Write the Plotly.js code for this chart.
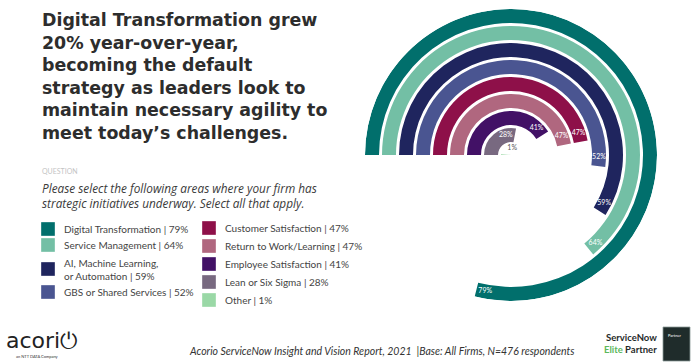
<!DOCTYPE html>
<html>
<head>
<meta charset="utf-8">
<script src="https://cdn.plot.ly/plotly-3.0.1.min.js"></script>
<style>html,body{margin:0;padding:0;background:#fff}#chart{width:700px;height:364px}</style>
</head>
<body>
<div id="chart"></div>
<script>
// ---- data ----
const categories = ['Digital Transformation','Service Management','AI, Machine Learning,<br>or Automation','GBS or Shared Services','Customer Satisfaction','Return to Work/Learning','Employee Satisfaction','Lean or Six Sigma','Other'];
const values = [79, 64, 59, 52, 47, 47, 41, 28, 1];
const colors = ['#016f6c','#73bfa5','#1f255e','#4a5591','#8e1049','#b0677f','#421166','#786980','#9ad8a6'];
const titleLines = ['Digital Transformation grew','20% year-over-year,','becoming the default','strategy as leaders look to','maintain necessary agility to','meet today\u2019s challenges.'];
const questionLines = ['Please select the following areas where your firm has','strategic initiatives underway. Select all that apply.'];
const footer = 'Acorio ServiceNow Insight and Vision Report, 2021  |Base: All Firms, N=476 respondents';

// ---- geometry helpers (layout only) ----
const W = 700, H = 364;
const cx = 511, cy = 155, R = 146;      // polar centre / outer radius in px
const pitch = 17, thick = 14;           // ring pitch / thickness in px
const unit = pitch;                     // px per radial unit
const rMax = R / unit;
const py = p => 1 - p / H;
const px = p => p / W;

const ringOuter = i => (R - i * pitch) / unit;          // i=0 outermost
const base = [], len = [], theta = [], width = [];
const lblR = [], lblT = [], lblText = [], lblCol = [];
values.forEach((v, i) => {
  const o = ringOuter(i);
  const b = Math.max(0, o - thick / unit);
  base.push(b); len.push(o - b);
  const sweep = v * 3.6;
  theta.push(sweep / 2); width.push(sweep);
  const mid = (o + b) / 2;
  const midPx = mid * unit;
  if (v >= 5) {
    lblR.push(mid);
    lblT.push(sweep - (9 / midPx) * 180 / Math.PI);
    lblCol.push('#ffffff');
  } else {
    lblR.push(0.4);
    lblT.push(100);
    lblCol.push('#555555');
  }
  lblText.push(v + '%');
});

const traces = [
  {
    type: 'barpolar', r: len, base: base, theta: theta, width: width,
    marker: {color: colors, line: {width: 0}}, hoverinfo: 'skip', showlegend: false
  },
  {
    type: 'scatterpolar', mode: 'text', r: lblR, theta: lblT, text: lblText,
    textfont: {family: 'Lato, sans-serif', size: 7, color: lblCol}, hoverinfo: 'skip', showlegend: false
  }
];

const annotations = [];
const shapes = [];
annotations.push({
  xref: 'paper', yref: 'paper', x: px(40), y: py(76.5), xanchor: 'left', yanchor: 'middle', align: 'left',
  text: '<b>' + titleLines.join('<br>') + '</b>', showarrow: false,
  font: {family: 'DejaVu Sans, sans-serif', size: 17.4, color: '#2d2d2d'}
});
annotations.push({xref:'paper',yref:'paper',x:px(40),y:py(171),xanchor:'left',yanchor:'middle',
  text:'QUESTION',showarrow:false,font:{family:'Lato, sans-serif',size:7,color:'#c4c4c4'}});
annotations.push({xref:'paper',yref:'paper',x:px(40),y:py(195),xanchor:'left',yanchor:'middle',align:'left',
  text:'<i>' + questionLines.join('<br>') + '</i>',showarrow:false,font:{family:'Open Sans, sans-serif',size:11.8,color:'#3a3a3a'}});

// legend (built from data arrays)
const legPos = [[41,229],[41,245],[41,269],[41,292],[202,228],[202,246],[202,264],[202,282],[202,300]];
values.forEach((v, i) => {
  const [lx, ly] = legPos[i];
  shapes.push({type:'rect',xref:'paper',yref:'paper',x0:px(lx),x1:px(lx+14),y0:py(ly+7),y1:py(ly-7),
    fillcolor:colors[i],line:{width:0.6,color:'rgba(255,255,255,0.6)'}});
  annotations.push({xref:'paper',yref:'paper',x:px(lx+21),y:py(ly),xanchor:'left',yanchor:'middle',align:'left',
    text: categories[i] + ' | ' + v + '%', showarrow:false,
    font:{family:'Lato, sans-serif',size:10,color:'#444444'}});
});

// footer
annotations.push({xref:'paper',yref:'paper',x:px(381),y:py(351),xanchor:'center',yanchor:'middle',
  text:'<i>' + footer + '</i>',showarrow:false,font:{family:'Lato, sans-serif',size:10.5,color:'#333333'}});
// acorio logo
annotations.push({xref:'paper',yref:'paper',x:px(4),y:py(340),xanchor:'left',yanchor:'middle',
  text:'acori\u23FB',showarrow:false,font:{family:'DejaVu Sans, sans-serif',size:22,color:'#222222'}});
annotations.push({xref:'paper',yref:'paper',x:px(14),y:py(356),xanchor:'left',yanchor:'middle',
  text:'an NTT DATA Company',showarrow:false,font:{family:'Lato, sans-serif',size:4,color:'#333333'}});
// ServiceNow partner mark
annotations.push({xref:'paper',yref:'paper',x:px(659),y:py(337),xanchor:'right',yanchor:'middle',
  text:'<b>ServiceNow</b>',showarrow:false,font:{family:'Lato, sans-serif',size:9.5,color:'#1f2a2a'}});
annotations.push({xref:'paper',yref:'paper',x:px(659),y:py(349),xanchor:'right',yanchor:'middle',
  text:'<b><span style="color:#5cb85c">Elite</span> Partner</b>',showarrow:false,font:{family:'Lato, sans-serif',size:9.5,color:'#1f2a2a'}});
shapes.push({type:'rect',xref:'paper',yref:'paper',x0:px(663),x1:px(690),y0:py(361),y1:py(327),
  fillcolor:'#1f2c2b',line:{width:0.8,color:'#8a9a98'}});
annotations.push({xref:'paper',yref:'paper',x:px(666),y:py(335),xanchor:'left',yanchor:'middle',
  text:'Partner',showarrow:false,font:{family:'Lato, sans-serif',size:4,color:'#ffffff'}});

const layout = {
  width: W, height: H,
  margin: {l: 0, r: 0, t: 0, b: 0},
  paper_bgcolor: '#ffffff',
  showlegend: false,
  polar: {
    domain: {x: [px(cx - R), px(cx + R)], y: [py(cy + R), py(cy - R)]},
    bgcolor: 'rgba(0,0,0,0)',
    barmode: 'overlay',
    radialaxis: {visible: false, range: [0, rMax]},
    angularaxis: {visible: false, rotation: 180, direction: 'clockwise', thetaunit: 'degrees'}
  },
  annotations: annotations,
  shapes: shapes
};

Plotly.newPlot('chart', traces, layout, {displayModeBar: false, staticPlot: true});
</script>
</body>
</html>
